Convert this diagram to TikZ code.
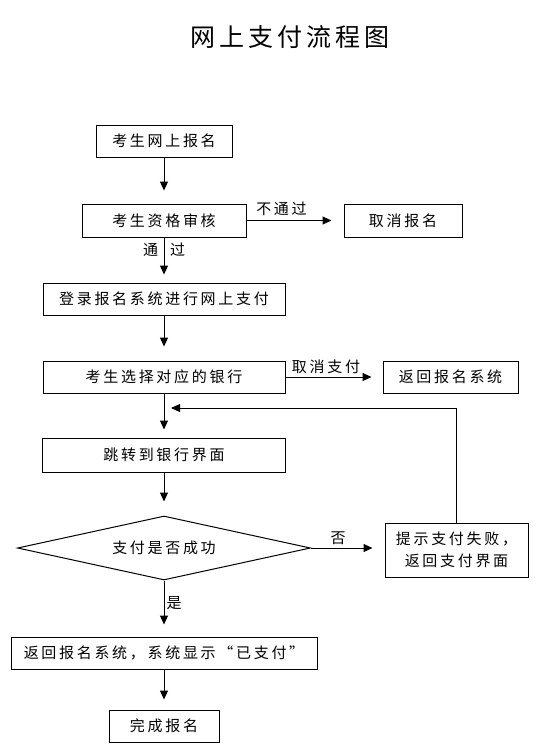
\documentclass[tikz,border=0pt]{standalone}
\usepackage{fontspec}
\setmainfont{Noto Sans CJK SC}
\newfontfamily\cjk[LetterSpace=18]{Noto Sans CJK SC}
\newfontfamily\cjktitle[LetterSpace=16]{Noto Sans CJK SC}
\usetikzlibrary{arrows.meta,shapes.geometric}
\begin{document}
\begin{tikzpicture}[x=1pt,y=-1pt,
  box/.style={draw, line width=1pt, inner sep=0pt, minimum height=32pt, font=\cjk\fontsize{15}{22}\selectfont},
  lbl/.style={inner sep=0pt, font=\cjk\fontsize{15}{18}\selectfont},
  arr/.style={line width=1pt, -{Triangle[width=8pt,length=9pt]}}]
\useasboundingbox (0,0) rectangle (539,748);
\node[font=\cjktitle\fontsize{25}{30}\selectfont] (title) at (290,37) {网上支付流程图};
\node[box,minimum width=136pt] (b1) at (164,141) {考生网上报名};
\node[box,minimum width=164pt,minimum height=33pt] (b2) at (164,220.5) {考生资格审核};
\node[box,minimum width=118pt,minimum height=33pt] (cancel) at (403,220.5) {取消报名};
\node[box,minimum width=242pt] (b3) at (164,299) {登录报名系统进行网上支付};
\node[box,minimum width=242pt] (b4) at (164,377) {考生选择对应的银行};
\node[box,minimum width=135pt] (ret) at (450.5,377) {返回报名系统};
\node[box,minimum width=243pt,minimum height=34pt] (b5) at (164,455) {跳转到银行界面};
\node[box,diamond,shape aspect=4.58,minimum width=293pt,minimum height=64pt] (dec) at (164,548) {支付是否成功};
\node[box,minimum width=143pt,minimum height=54pt,align=center] (fail) at (456.5,550) {提示支付失败，\\返回支付界面};
\node[box,minimum width=306pt] (b6) at (164,653) {返回报名系统，系统显示“已支付”};
\node[box,minimum width=110pt] (b7) at (164,726) {完成报名};
\coordinate (fb) at (171,408);
\draw[arr, shorten >=13pt] (b1) -- (b2);
\draw[arr, shorten >=8pt] (b2) -- (b3);
\draw[arr, shorten >=14pt] (b3) -- (b4);
\draw[arr, shorten >=8pt] (b4) -- (b5);
\draw[arr, shorten >=14pt] (b5) -- (dec);
\draw[arr, shorten >=12pt] (dec) -- (b6);
\draw[arr, shorten >=10pt] (b6) -- (b7);
\draw[arr, shorten >=12pt] (b2) -- (cancel);
\draw[arr, shorten >=11pt] (b4) -- (ret);
\draw[arr, shorten >=12pt] (dec.east) -- (dec.east -| fail.west);
\draw[arr] (fail.north) |- (fb);
\node[lbl] (l1) at (281.5,209) {不通过};
\node[lbl] (l2) at (164,250) {通\hspace{12pt}过};
\node[lbl] (l3) at (326,367) {取消支付};
\node[lbl] (l4) at (338,538) {否};
\node[lbl] (l5) at (174,603) {是};
\end{tikzpicture}
\end{document}
